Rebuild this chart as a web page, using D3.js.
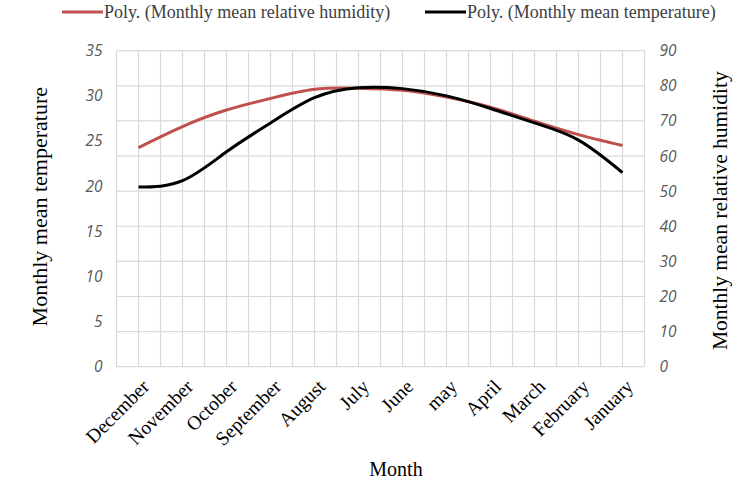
<!DOCTYPE html>
<html>
<head>
<meta charset="utf-8">
<script src="https://cdn.jsdelivr.net/npm/d3@7"></script>
<style>
  body { margin: 0; background: #fff; }
  svg { display: block; }
</style>
</head>
<body>
<div id="chart"></div>
<script>
// mois dans l'ordre du graphique
const mois = ["December","November","October","September","August","July","June","may","April","March","February","January"];
// valeurs (tendance poly.)
const humidite = [62.4, 68.4, 73.1, 76.4, 79.0, 79.3, 78.7, 76.8, 73.9, 69.9, 66.1, 63.0];
const temperature = [19.9, 20.6, 23.8, 27.0, 29.8, 30.9, 30.8, 30.0, 28.6, 27.0, 25.1, 21.5];
const ticksTemp = [0,5,10,15,20,25,30,35];
const ticksHum = [0,10,20,30,40,50,60,70,80,90];

const W = 740, H = 492;
const gauche = 116.5, droite = 644.5, haut = 50.7, bas = 366.7;

const svg = d3.select("#chart").append("svg").attr("width",W).attr("height",H);

const x = d3.scaleBand().domain(mois).range([gauche,droite]);
const yT = d3.scaleLinear().domain([0,35]).range([bas,haut]);
const yH = d3.scaleLinear().domain([0,90]).range([bas,haut]);

// grille verticale : limites + milieux des categories
let pas = x.bandwidth()/2;
let grilleX = d3.range(0, mois.length*2+1).map(i => gauche + i*pas);
svg.append("g").selectAll("line").data(grilleX).join("line")
  .attr("x1",d=>d).attr("x2",d=>d).attr("y1",haut).attr("y2",bas)
  .attr("stroke","#d9d9d9").attr("stroke-width",1.2);
// grille horizontale (axe de droite)
svg.append("g").selectAll("line").data(ticksHum).join("line")
  .attr("x1",gauche).attr("x2",droite).attr("y1",d=>yH(d)).attr("y2",d=>yH(d))
  .attr("stroke","#d9d9d9").attr("stroke-width",1.2);

// axe gauche
const axeG = svg.append("g").attr("transform","translate("+gauche+",0)")
  .call(d3.axisLeft(yT).tickValues(ticksTemp).tickSize(0).tickPadding(14));
axeG.select(".domain").remove();
axeG.selectAll("text").attr("font-family","'Open Sans', sans-serif").attr("font-style","italic")
  .attr("font-size",15.5).attr("fill","#595959");

// axe droit
const axeD = svg.append("g").attr("transform","translate("+droite+",0)")
  .call(d3.axisRight(yH).tickValues(ticksHum).tickSize(0).tickPadding(15));
axeD.select(".domain").remove();
axeD.selectAll("text").attr("font-family","'Open Sans', sans-serif").attr("font-style","italic")
  .attr("font-size",15.5).attr("fill","#595959");

// etiquettes des mois
svg.append("g").selectAll("text").data(mois).join("text")
  .attr("transform",d=>"translate("+(x(d)+x.bandwidth()/2+7)+",383) rotate(-45)")
  .attr("text-anchor","end").attr("dy","0.35em")
  .attr("font-family","'Liberation Serif', serif").attr("font-size",19.5).attr("fill","#000")
  .text(d=>d);

// courbes
const ligneH = d3.line().x((d,i)=>x(mois[i])+x.bandwidth()/2).y(d=>yH(d)).curve(d3.curveNatural);
const ligneT = d3.line().x((d,i)=>x(mois[i])+x.bandwidth()/2).y(d=>yT(d)).curve(d3.curveNatural);
svg.append("path").attr("d",ligneH(humidite)).attr("fill","none")
  .attr("stroke","#c0504d").attr("stroke-width",3);
svg.append("path").attr("d",ligneT(temperature)).attr("fill","none")
  .attr("stroke","#000").attr("stroke-width",3);

// titres des axes
svg.append("text").attr("transform","translate(47,"+((haut+bas)/2-2)+") rotate(-90)")
  .attr("text-anchor","middle").attr("font-family","'Liberation Serif', serif").attr("font-size",22)
  .text("Monthly mean temperature");
svg.append("text").attr("transform","translate(727,"+((haut+bas)/2+2)+") rotate(-90)")
  .attr("text-anchor","middle").attr("font-family","'Liberation Serif', serif").attr("font-size",21.5)
  .text("Monthly mean relative humidity");
svg.append("text").attr("x",396).attr("y",476)
  .attr("text-anchor","middle").attr("font-family","'Liberation Serif', serif").attr("font-size",20)
  .text("Month");

// legende
const legende = [
  {nom:"Poly. (Monthly mean relative humidity)", couleur:"#c0504d", x:62},
  {nom:"Poly. (Monthly mean temperature)", couleur:"#000", x:425}
];
const lg = svg.append("g").selectAll("g").data(legende).join("g")
  .attr("transform",d=>"translate("+d.x+",12)");
lg.append("line").attr("x1",0).attr("x2",41).attr("stroke",d=>d.couleur).attr("stroke-width",3);
lg.append("text").attr("x",42).attr("dy","0.35em")
  .attr("font-family","'Liberation Serif', serif").attr("font-size",18).attr("fill","#404040")
  .text(d=>d.nom);
</script>
</body>
</html>
